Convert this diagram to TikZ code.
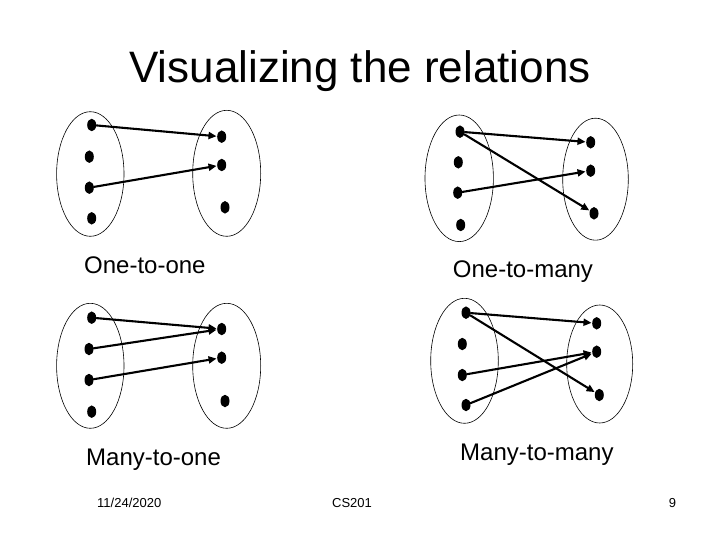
\documentclass[tikz,border=0pt]{standalone}
\usepackage{fontspec}
\setmainfont{Liberation Sans}
\usetikzlibrary{arrows.meta,shapes.geometric}
\definecolor{bg}{HTML}{FFFFFF}
\definecolor{ink}{HTML}{000000}

\begin{document}
\begin{tikzpicture}[x=1pt,y=-1pt,line cap=round,line join=round,
  dot/.style={ellipse,fill=ink,inner sep=0pt,minimum width=9pt,minimum height=12.5pt},
  setline/.style={draw=ink,line width=0.6pt},
  maparrow/.style={-{Triangle[length=8pt,width=7pt]},line width=2.1pt,ink,shorten >=0.5pt},
  caption/.style={font=\fontsize{24}{28}\selectfont,text=ink,anchor=base west,inner sep=0pt},
  footer/.style={font=\fontsize{13}{15}\selectfont,text=ink,inner sep=0pt}]
  \fill[bg] (0,0) rectangle (720,540);
  \useasboundingbox (0,0) rectangle (720,540);
  \node[font=\fontsize{44}{52}\selectfont,text=ink,anchor=base,inner sep=0pt] (title) at (360,83) {Visualizing the relations};

  % ---- one-to-one (top left) ----
  \draw[setline] (90.3,174) ellipse (33.7 and 62.3);
  \draw[setline] (226.7,173.3) ellipse (34 and 63);
  \node[dot] (oa1) at (91.7,125) {};
  \node[dot] (oa2) at (89.3,156.7) {};
  \node[dot] (oa3) at (89.3,187.7) {};
  \node[dot] (oa4) at (91.7,218.3) {};
  \node[dot] (ob1) at (221.7,136.7) {};
  \node[dot] (ob2) at (221.7,165) {};
  \node[dot] (ob3) at (225,207.3) {};
  \draw[maparrow] (oa1) -- (ob1);
  \draw[maparrow] (oa3) -- (ob2);
  \node[caption] (onetoone) at (84,273) {One-to-one};

  % ---- one-to-many (top right) ----
  \draw[setline] (459.2,178.3) ellipse (34.2 and 63.3);
  \draw[setline] (595.5,179.2) ellipse (32.8 and 61);
  \node[dot] (ma1) at (460,131.7) {};
  \node[dot] (ma2) at (458.3,162.3) {};
  \node[dot] (ma3) at (457.7,192.7) {};
  \node[dot] (ma4) at (460.7,225) {};
  \node[dot] (mb1) at (590.7,142.3) {};
  \node[dot] (mb2) at (590.7,170.7) {};
  \node[dot] (mb3) at (594,213.3) {};
  \draw[maparrow] (ma1) -- (mb1);
  \draw[maparrow] (ma1) -- (mb3);
  \draw[maparrow] (ma3) -- (mb2);
  \node[caption] (onetomany) at (452.7,277.7) {One-to-many};

  % ---- many-to-one (bottom left) ----
  \draw[setline] (90.3,365.8) ellipse (33.7 and 62.5);
  \draw[setline] (226.7,365.8) ellipse (34 and 62.5);
  \node[dot] (na1) at (91.7,317.7) {};
  \node[dot] (na2) at (89,349) {};
  \node[dot] (na3) at (89,380) {};
  \node[dot] (na4) at (91.7,411.7) {};
  \node[dot] (nb1) at (221.7,329) {};
  \node[dot] (nb2) at (221.7,357.7) {};
  \node[dot] (nb3) at (225,401) {};
  \draw[maparrow] (na1) -- (nb1);
  \draw[maparrow] (na2) -- (nb1);
  \draw[maparrow] (na3) -- (nb2);
  \node[caption] (manytoone) at (86,465.7) {Many-to-one};

  % ---- many-to-many (bottom right) ----
  \draw[setline] (464.5,360.8) ellipse (33.8 and 62.5);
  \draw[setline] (599.7,364) ellipse (33 and 59);
  \node[dot] (xa1) at (466,312.7) {};
  \node[dot] (xa2) at (462.3,344) {};
  \node[dot] (xa3) at (462.3,375) {};
  \node[dot] (xa4) at (466,405) {};
  \node[dot] (xb1) at (596.7,323.3) {};
  \node[dot] (xb2) at (596.7,351.7) {};
  \node[dot] (xb3) at (599.3,395) {};
  \draw[maparrow] (xa1) -- (xb1);
  \draw[maparrow] (xa1) -- (xb3);
  \draw[maparrow] (xa3) -- (xb2);
  \draw[maparrow] (xa4) -- (xb2);
  \node[caption] (manytomany) at (460,460) {Many-to-many};

  % ---- footer ----
  \node[footer,anchor=west] (date) at (97,503) {11/24/2020};
  \node[footer] (course) at (352,503) {CS201};
  \node[footer] (page) at (672.5,503) {9};
\end{tikzpicture}
\end{document}
